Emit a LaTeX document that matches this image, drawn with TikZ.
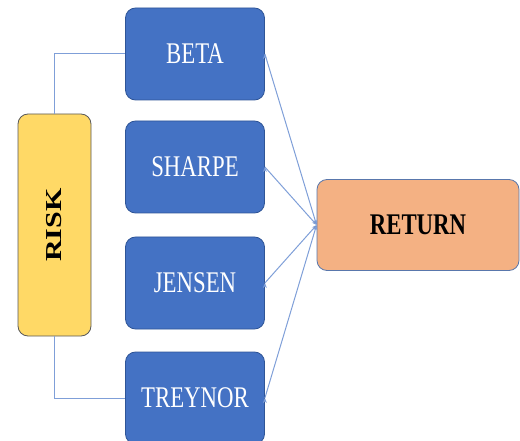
\documentclass[tikz,border=0pt]{standalone}
\usepackage{fontspec}
\setmainfont{Liberation Serif}
\usetikzlibrary{arrows.meta}

\definecolor{boxblue}{HTML}{4472C4}
\definecolor{boxedge}{HTML}{2F5597}
\definecolor{riskfill}{HTML}{FFD966}
\definecolor{retfill}{HTML}{F4B183}
\definecolor{linkblue}{HTML}{7F9FD8}

\tikzset{
    measure/.style={draw=boxedge, fill=boxblue, rounded corners=10pt, line width=0.8pt,
        minimum width=139pt, minimum height=92pt, text=white, inner sep=0pt},
    link/.style={draw=linkblue, line width=1pt},
}
\newcommand{\lbl}[1]{\scalebox{0.76}[1]{\fontsize{30}{30}\selectfont #1}}

\begin{document}
\begin{tikzpicture}[x=1pt, y=-1pt]
        \useasboundingbox (0,0) rectangle (520,441);
        \clip (0,0) rectangle (520,441);

        \node[measure] (beta) at (195,54) {\lbl{BETA}};
        \node[measure] (sharpe) at (195,167) {\lbl{SHARPE}};
        \node[measure] (jensen) at (195,283) {\lbl{JENSEN}};
        \node[measure] (treynor) at (195,398) {\lbl{TREYNOR}};

        \node[draw=black!65, fill=riskfill, rounded corners=10pt, line width=0.8pt,
            minimum width=222pt, minimum height=73pt, inner sep=0pt, rotate=90]
            (risk) at (54.5,225) {\scalebox{1}[0.76]{\fontsize{30}{30}\selectfont\bfseries RISK}};
        \node[draw=boxedge!80, fill=retfill, rounded corners=10pt, line width=0.8pt,
            minimum width=202pt, minimum height=91pt, inner sep=0pt]
            (return) at (418,225) {\lbl{\bfseries RETURN}};

        % risk to the first and last measure
        \path[link] (risk.east) |- (beta.west);
        \path[link] (risk.west) |- (treynor.west);
        %
        \path[link, -{Stealth[length=5pt, width=4pt]}] (beta.east) edge (return.west);
        \path[link, -{Stealth[length=5pt, width=4pt]}] (sharpe.east) edge (return.west);
        \path[link, -{Stealth[length=5pt, width=4pt]}] (jensen.east) edge (return.west);
        \path[link, -{Stealth[length=5pt, width=4pt]}] (treynor.east) edge (return.west);
    \end{tikzpicture}
\end{document}
